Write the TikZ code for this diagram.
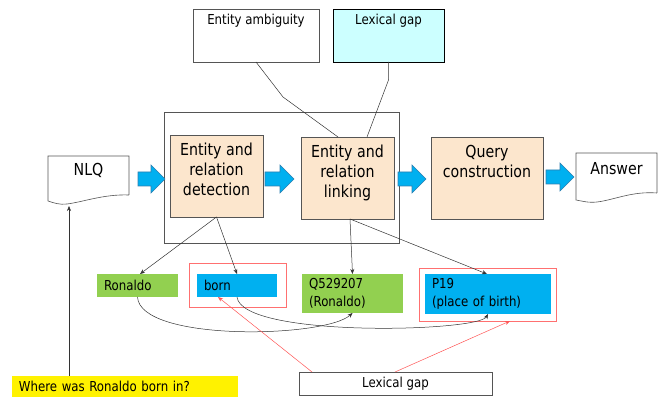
\documentclass[tikz,border=0pt]{standalone}
\usepackage{fontspec}
\setmainfont{DejaVu Sans}[FakeStretch=0.86]
\usetikzlibrary{calc,arrows.meta}
\definecolor{peach}{HTML}{FCE6CD}
\definecolor{skyblue}{HTML}{00B0F0}
\definecolor{arredge}{HTML}{2F7FAF}
\definecolor{leaf}{HTML}{92D050}
\definecolor{lightcyan}{HTML}{CCFFFF}
\definecolor{redline}{HTML}{FF5555}
\definecolor{redframe}{HTML}{FF7070}
\definecolor{lineg}{HTML}{333333}
\definecolor{boxg}{HTML}{555555}
\newcommand\bigtxt{\fontsize{16.5}{20}\selectfont}
\newcommand\smalltxt{\fontsize{13.7}{18}\selectfont}
\newcommand\blockarr[3]{\filldraw[barr] (#1,#3-7) -- (#2-14,#3-7) -- (#2-14,#3-14) -- (#2,#3) -- (#2-14,#3+14) -- (#2-14,#3+7) -- (#1,#3+7) -- cycle;}
\begin{document}
\begin{tikzpicture}[x=1pt,y=-1pt,
  every node/.style={inner sep=0pt,outer sep=0pt},
  stage/.style={draw=boxg,fill=peach,line width=0.6pt,minimum height=82pt,
    label={[anchor=north,inner sep=0pt,yshift=-8pt,align=center,font=\bigtxt]north:#1}},
  docbox/.style={minimum width=81pt,minimum height=49pt},
  issue/.style={draw=boxg,line width=0.6pt,minimum width=#1,minimum height=53pt},
  tag/.style={minimum height=23pt,font=\smalltxt,align=left,inner xsep=7pt},
  frame/.style={draw=redframe,line width=0.7pt},
  barr/.style={fill=skyblue,draw=arredge,line width=0.6pt},
  conn/.style={draw=lineg,line width=0.5pt,-{Stealth[length=5pt,width=4pt]}},
  plain/.style={draw=lineg,line width=0.5pt},
  redarr/.style={draw=redline,line width=0.5pt,-{Stealth[length=5pt,width=4pt]}}]
\useasboundingbox (0,0) rectangle (667,398);

% top issue boxes
\node[issue=126pt,
  label={[anchor=north,inner sep=0pt,yshift=-5pt,font=\smalltxt]north:Entity ambiguity}]
  (ea) at (256,35.5) {};
\node[issue=111pt,fill=lightcyan,draw=black,
  label={[anchor=north,inner sep=0pt,yshift=-5pt,font=\smalltxt]north:Lexical gap}]
  (lgt) at (388.5,35.5) {};

% outer frame
\node[draw=boxg,line width=0.6pt,minimum width=235pt,minimum height=131pt] (outer) at (281.5,177.5) {};

% stages
\node[stage={Entity and\\relation\\detection},minimum width=93pt] (det) at (216.5,176) {};
\node[stage={Entity and\\relation\\linking},minimum width=93pt] (link) at (347.5,178) {};
\node[stage={Query\\construction},minimum width=112pt] (query) at (487,178) {};

% documents
\node[docbox] (nlq) at (88.5,180.5) {};
\node[docbox] (ans) at (616.5,177.5) {};
\draw[draw=boxg,line width=0.6pt,fill=white]
  ($(nlq.south east)+(0,-10)$) -- (nlq.north east) -- (nlq.north west) -- ($(nlq.south west)+(0,-4)$)
  .. controls ($(nlq.south west)+(6,-2)$) and ($(nlq.south west)+(12,0)$) .. ($(nlq.south west)+(19,-1)$)
  .. controls ($(nlq.south west)+(35,-3)$) and ($(nlq.south east)+(-25,-11)$) .. ($(nlq.south east)+(0,-10)$);
\draw[draw=boxg,line width=0.6pt,fill=white]
  ($(ans.south east)+(0,-9)$) -- (ans.north east) -- (ans.north west) -- ($(ans.south west)+(0,-2)$)
  .. controls ($(ans.south west)+(6,-1)$) and ($(ans.south west)+(12,1)$) .. ($(ans.south west)+(21,0)$)
  .. controls ($(ans.south west)+(38,-2)$) and ($(ans.south east)+(-25,-11)$) .. ($(ans.south east)+(0,-9)$);
\node[font=\bigtxt,anchor=north] (nlqtxt) at ($(nlq.north)+(0,7)$) {NLQ};
\node[font=\bigtxt,anchor=north] (anstxt) at ($(ans.north)+(0,9)$) {Answer};
\coordinate (nlqwave) at (69,206);

% block arrows
\blockarr{138}{165}{179}
\blockarr{265}{294}{179}
\blockarr{398}{426}{179}
\blockarr{546}{574}{177}

% issue connectors
\draw[plain] (ea.south) -- (283,97) -- ($(link.north)+(-9.5,0)$);
\draw[plain] (lgt.south) -- ++(0,18) -- ($(link.north)+(19.5,0)$);

% lower tags
\node[frame,minimum width=97pt,minimum height=44pt] (bornframe) at (237.5,285) {};
\node[frame,minimum width=137pt,minimum height=53pt] (pframe) at (487.5,294.5) {};
\node[tag,fill=leaf,text width=67pt] (ron) at (137.5,285.5) {Ronaldo};
\node[tag,fill=skyblue,text width=66pt] (born) at (237,285.5) {born};
\node[tag,fill=leaf,text width=87pt,minimum height=39pt] (q) at (352.5,293.5) {Q529207\\(Ronaldo)};
\node[tag,fill=skyblue,text width=112pt,minimum height=40pt] (p) at (488,294) {P19\\(place of birth)};

% detection / linking outputs
\draw[conn] (det.south) -- ($(ron.north)+(2.5,0)$);
\draw[conn] (det.south) -- (born.north);
\draw[conn] ($(link.south)+(2.5,0)$) -- (q.north);
\draw[conn] ($(link.south)+(2.5,0)$) -- ($(p.north)+(-1,0)$);

% curves
\draw[conn] (ron.south) .. controls (140,342) and (325,338) .. (q.south);
\draw[conn] (born.south) .. controls (242,338) and (478,332) .. (p.south);

% bottom lexical gap
\node[draw=boxg,line width=0.6pt,minimum width=193pt,minimum height=23pt,font=\smalltxt] (lgb) at (395.5,383.5) {Lexical gap};
\draw[redarr] ($(lgb.north west)+(13,0)$) -- ($(born.south west)+(21,0)$);
\draw[redarr] ($(lgb.north west)+(96,0)$) -- ($(pframe.south)+(22.5,0)$);

% question
\node[fill=yellow,minimum width=226pt,minimum height=21pt,font=\smalltxt,anchor=north west,
  text width=212pt,inner xsep=7pt,align=left] (qst) at (12,376) {Where was Ronaldo born in?};
\draw[conn] ($(qst.north west)+(57,0)$) -- (nlqwave);
\end{tikzpicture}
\end{document}
